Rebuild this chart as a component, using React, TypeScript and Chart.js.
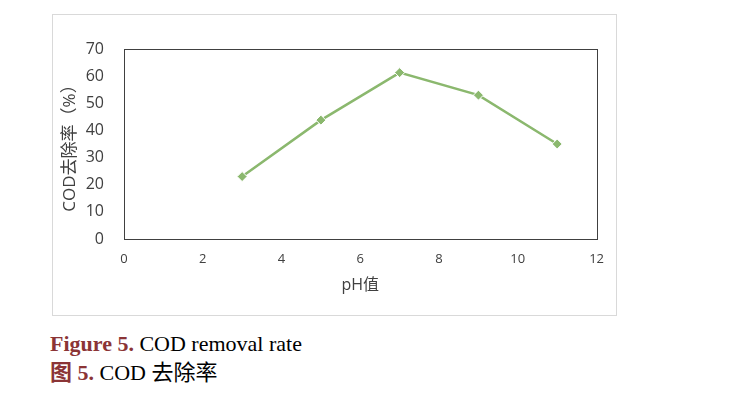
import React, { useEffect, useRef } from "react";
import { Chart, registerables } from "chart.js";

Chart.register(...registerables);

const phValues = [3, 5, 7, 9, 11];
const codRemoval = [23, 43.8, 61.3, 53, 35];
const xTicks = [0, 2, 4, 6, 8, 10, 12];
const yTicks = [0, 10, 20, 30, 40, 50, 60, 70];

const frame = {
  id: "frame",
  afterDraw(chart: any) {
    const { ctx, chartArea } = chart;
    ctx.save();
    ctx.strokeStyle = "#404040";
    ctx.lineWidth = 1;
    ctx.strokeRect(
      Math.round(chartArea.left) + 0.5,
      Math.round(chartArea.top) + 0.5,
      Math.round(chartArea.right - chartArea.left),
      Math.round(chartArea.bottom - chartArea.top)
    );
    ctx.restore();
  },
};

export default function App() {
  const ref = useRef<HTMLCanvasElement | null>(null);
  useEffect(() => {
    document.body.style.margin = "0";
    const canvas = ref.current!;
    const chart = new Chart(canvas, {
      type: "scatter",
      data: {
        datasets: [
          {
            data: phValues.map((x, i) => ({ x, y: codRemoval[i] })),
            showLine: true,
            borderColor: "#8BB86E",
            backgroundColor: "#8BB86E",
            borderWidth: 2.5,
            pointStyle: "rectRot",
            pointRadius: 5,
            pointBorderColor: "#ffffff",
            pointBorderWidth: 1,
            pointBackgroundColor: "#8BB86E",
          },
        ],
      },
      options: {
        animation: false,
        responsive: false,
        maintainAspectRatio: false,
        layout: { padding: { left: 0, top: 34, right: 19, bottom: 20 } },
        plugins: { legend: { display: false }, tooltip: { enabled: false } },
        scales: {
          x: {
            type: "linear",
            min: 0,
            max: 12,
            afterBuildTicks: (s: any) => {
              s.ticks = xTicks.map((v) => ({ value: v }));
            },
            afterFit: (s: any) => {
              s.height = 56;
            },
            grid: { display: false, drawTicks: false },
            border: { display: false },
            ticks: {
              padding: 12,
              color: "#404040",
              font: { family: "'Open Sans', 'Noto Sans', sans-serif", size: 13 },
            },
            title: {
              display: true,
              text: "pH值",
              color: "#404040",
              padding: { top: 6, bottom: 0 },
              font: { family: "'Open Sans', 'Noto Sans CJK SC', sans-serif", size: 16 },
            },
          },
          y: {
            type: "linear",
            min: 0,
            max: 70,
            afterBuildTicks: (s: any) => {
              s.ticks = yTicks.map((v) => ({ value: v }));
            },
            afterFit: (s: any) => {
              s.width = 71;
            },
            grid: { display: false, drawTicks: false },
            border: { display: false },
            ticks: {
              padding: 20,
              color: "#404040",
              font: { family: "'Open Sans', 'Noto Sans', sans-serif", size: 16 },
            },
            title: {
              display: true,
              text: "COD去除率（%）",
              color: "#404040",
              padding: { top: 7, bottom: 0 },
              font: { family: "'Open Sans', 'Noto Sans CJK SC', sans-serif", size: 17 },
            },
          },
        },
      },
      plugins: [frame],
    });
    return () => chart.destroy();
  }, []);

  return (
    <div style={{ position: "relative", width: 738, height: 393, background: "#fff" }}>
      <div
        style={{
          position: "absolute",
          left: 52,
          top: 14,
          width: 565,
          height: 302,
          boxSizing: "border-box",
          border: "1px solid #d9d9d9",
        }}
      >
        <canvas ref={ref} width={563} height={300} style={{ display: "block" }} />
      </div>
      <div
        style={{
          position: "absolute",
          left: 50,
          top: 330,
          fontFamily: "'Liberation Serif', 'Times New Roman', serif",
          fontSize: 22,
          lineHeight: "27px",
          color: "#000",
          whiteSpace: "nowrap",
        }}
      >
        <div>
          <span style={{ color: "#8B3436", fontWeight: "bold" }}>Figure 5.</span> COD removal rate
        </div>
        <div>
          <span style={{ color: "#8B3436", fontWeight: "bold", fontFamily: "'Noto Sans CJK SC', serif" }}>图</span>
          <span style={{ color: "#8B3436", fontWeight: "bold" }}> 5.</span> COD{" "}
          <span style={{ fontFamily: "'Noto Sans CJK SC', serif" }}>去除率</span>
        </div>
      </div>
    </div>
  );
}
